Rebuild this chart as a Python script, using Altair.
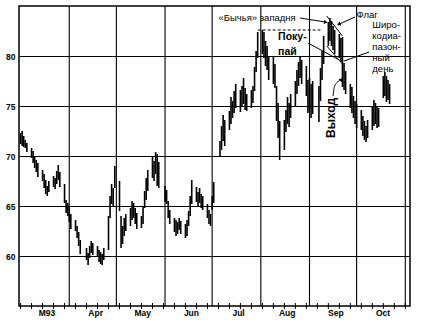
import altair as alt
import pandas as pd

# ---------------- data ----------------
holidays = ["1993-04-09", "1993-05-31", "1993-07-05", "1993-09-06"]

mar_high = [72.3, 72.5, 72.0, 71.6, 71.3, 70.8, 70.5, 70.0, 69.6, 69.3, 68.6, 68.2, 67.6, 67.0, 67.5,
            68.0, 67.8, 68.5, 69.1, 68.4, 67.2, 65.6, 65.3]
mar_low = [71.2, 71.0, 70.9, 70.8, 70.4, 69.8, 69.3, 68.8, 68.4, 67.9, 67.5, 66.8, 66.2, 66.0, 66.4,
           66.9, 66.7, 67.2, 67.6, 66.9, 65.3, 64.3, 64.0]
apr_high = [65.0, 64.2, 63.6, 63.0, 62.4, 61.6, 60.8, 60.3, 61.0, 61.5, 61.3, 61.0, 60.6, 60.4, 60.2,
            60.8, 64.0, 66.0, 67.2, 66.8, 69.0]
apr_low = [63.4, 62.7, 62.5, 61.8, 61.0, 60.2, 59.6, 59.1, 59.8, 60.3, 60.1, 59.9, 59.4, 59.2, 59.1,
           59.6, 60.6, 63.8, 65.2, 65.0, 66.8]
may_high = [67.5, 64.0, 63.0, 63.8, 64.2, 64.8, 65.5, 65.3, 64.8, 64.3, 64.0, 65.0, 66.5, 67.8, 68.6,
            70.0, 69.5, 70.4, 70.2, 69.4]
may_low = [64.5, 60.8, 61.2, 62.0, 62.5, 63.0, 63.6, 63.8, 63.2, 62.7, 62.8, 63.2, 64.8, 65.6, 66.5,
           67.8, 67.5, 68.2, 67.0, 66.8]
jun_high = [67.0, 66.6, 65.5, 64.6, 63.8, 63.6, 63.4, 63.8, 63.5, 63.2, 63.6, 64.5, 66.0, 67.6, 66.9,
            66.4, 66.8, 66.2, 66.0, 65.2, 64.6, 64.2]
jun_low = [65.4, 65.2, 63.8, 63.2, 62.4, 62.0, 62.2, 62.6, 62.2, 61.8, 62.0, 63.0, 64.0, 65.2, 65.4,
           65.0, 65.3, 64.8, 64.6, 63.8, 63.2, 63.0]
jul_high = [66.0, 67.4, 71.5, 73.0, 74.1, 73.6, 74.5, 75.9, 75.5, 76.5, 77.2, 76.6, 77.0, 77.8, 76.8,
            76.2, 76.6, 77.0, 78.9, 80.5, 82.4]
jul_low = [64.6, 65.3, 69.9, 70.6, 71.5, 71.0, 72.6, 73.2, 73.8, 74.3, 74.8, 74.4, 75.0, 75.2, 74.6,
           74.5, 74.8, 75.3, 76.5, 78.4, 79.8]
aug_high = [82.6, 82.4, 81.5, 81.0, 80.0, 80.0, 79.2, 77.0, 75.3, 73.5, 73.6, 74.6, 75.9, 75.3, 76.2,
            77.5, 78.6, 79.4, 80.0, 79.6, 79.0, 77.6]
aug_low = [80.2, 79.8, 79.0, 78.6, 77.6, 77.2, 76.8, 73.5, 71.8, 69.6, 70.6, 72.4, 73.2, 72.9, 73.8,
           75.0, 76.2, 77.0, 77.8, 77.2, 76.0, 74.3]
sep_high = [77.8, 77.2, 77.5, 77.0, 78.8, 80.5, 82.0, 83.4, 83.8, 83.5, 83.0, 82.6, 82.2, 81.8, 81.9,
            79.3, 78.5, 77.2, 76.9, 76.0, 75.5]
sep_low = [74.6, 73.8, 74.2, 73.4, 75.5, 77.6, 79.2, 81.0, 81.5, 81.0, 80.6, 80.2, 79.8, 79.4, 76.9,
           76.6, 76.2, 74.8, 74.3, 73.8, 73.2]
oct_high = [75.2, 74.6, 74.0, 73.5, 73.0, 73.6, 75.0, 75.6, 75.3, 75.0, 74.8, 78.0, 78.4, 78.0, 77.6, 77.2]
oct_low = [72.8, 72.6, 72.0, 71.6, 71.4, 71.8, 72.6, 73.0, 73.2, 72.8, 72.9, 75.8, 76.0, 75.4, 75.6, 75.2]

month_numbers = [3, 4, 5, 6, 7, 8, 9, 10]
month_labels = ["M93", "Apr", "May", "Jun", "Jul", "Aug", "Sep", "Oct"]
price_ticks = [60, 65, 70, 75, 80]
highs = [mar_high, apr_high, may_high, jun_high, jul_high, aug_high, sep_high, oct_high]
lows = [mar_low, apr_low, may_low, jun_low, jul_low, aug_low, sep_low, oct_low]

# annotation anchors (date, price)
dashed_level = 82.6
texts_normal = [("1993-07-05", 83.8, "«Бычья» западня"), ("1993-10-01", 84.1, "Флаг"),
                ("1993-10-11", 83.1, "Широ-"), ("1993-10-11", 82.0, "кодиа-"),
                ("1993-10-11", 80.9, "пазон-"), ("1993-10-11", 79.8, "ный"),
                ("1993-10-11", 78.7, "день")]
texts_bold = [("1993-08-12", 81.9, "Поку-"), ("1993-08-12", 80.4, "пай")]
text_exit = [("1993-09-15", 73.8, "Выход")]
segments = [("1993-08-26", 83.8, "1993-09-11", 83.4),
            ("1993-09-30", 83.9, "1993-09-20", 83.2),
            ("1993-09-12", 84.0, "1993-09-22", 82.0),
            ("1993-09-12", 81.0, "1993-09-22", 79.2),
            ("1993-08-31", 81.3, "1993-09-20", 79.6),
            ("1993-10-09", 80.4, "1993-09-23", 79.5)]
exit_path = [("1993-09-16", 76.0), ("1993-09-17", 77.0), ("1993-09-21", 77.6)]
heads = [("1993-09-11", 83.4, 99), ("1993-09-20", 83.2, 245), ("1993-09-21", 77.6, 45)]

# ---------------- build tables ----------------
rows = []
for m, hi, lo in zip(month_numbers, highs, lows):
    days = pd.bdate_range(f"1993-{m:02d}-01", periods=30)
    days = [d for d in days if d.month == m and d.strftime("%Y-%m-%d") not in holidays]
    for d, h, l in zip(days, hi, lo):
        rows.append({"date": d, "high": h, "low": l})
bars = pd.DataFrame(rows)

month_starts = pd.DataFrame({"d": pd.to_datetime([f"1993-{m:02d}-01" for m in range(4, 12)])})
weeks = pd.DataFrame({"d": pd.date_range("1993-03-01", "1993-11-01", freq="W-MON")})
label_dates = [alt.DateTime(year=1993, month=m, date=17, hours=12) for m in month_numbers]
label_expr = "[" + ",".join(f"'{t}'" for t in month_labels) + "][month(datum.value)-2]"

xscale = alt.Scale(domain=[alt.DateTime(year=1993, month=2, date=28),
                           alt.DateTime(year=1993, month=11, date=4)])
yscale = alt.Scale(domain=[55, 85], nice=False, zero=False)

def X(field):
    return alt.X(field, type="temporal", scale=xscale, title=None)

def Y(field):
    return alt.Y(field, type="quantitative", scale=yscale, title=None)

FONT = "Liberation Sans Narrow, Liberation Sans, Arial"

price_bars = alt.Chart(bars).mark_rule(color="black", strokeWidth=1.6).encode(
    x=alt.X("date:T", scale=xscale, title=None,
            axis=alt.Axis(values=label_dates, labelExpr=label_expr, grid=False, ticks=False,
                          domain=False, labelPadding=2)),
    y=alt.Y("low:Q", scale=yscale, title=None,
            axis=alt.Axis(values=price_ticks, grid=True, ticks=False, domain=False,
                          labelPadding=4)),
    y2="high:Q")

grid_x = alt.Chart(month_starts).mark_rule(color="black", strokeWidth=1.1).encode(x=X("d"))

week_ticks = alt.Chart(weeks).mark_rule(color="black", strokeWidth=1).encode(
    x=X("d"), y=alt.value(297), y2=alt.value(303))

dash_df = pd.DataFrame({"a": pd.to_datetime(["1993-07-30"]), "b": pd.to_datetime(["1993-09-08"]),
                        "p": [dashed_level]})
dashed = alt.Chart(dash_df).mark_rule(color="black", strokeWidth=1, strokeDash=[3, 2]).encode(
    x=X("a"), x2="b", y=Y("p"))

seg_df = pd.DataFrame(segments, columns=["a", "p1", "b", "p2"])
seg_df["a"] = pd.to_datetime(seg_df["a"])
seg_df["b"] = pd.to_datetime(seg_df["b"])
seg = alt.Chart(seg_df).mark_rule(color="black", strokeWidth=1).encode(
    x=X("a"), x2="b", y=Y("p1"), y2="p2")

exit_df = pd.DataFrame(exit_path, columns=["d", "p"])
exit_df["d"] = pd.to_datetime(exit_df["d"])
exit_df["o"] = range(len(exit_df))
exit_line = alt.Chart(exit_df).mark_line(color="black", strokeWidth=1, interpolate="monotone").encode(
    x=X("d"), y=Y("p"), order="o:O")

head_df = pd.DataFrame(heads, columns=["d", "p", "ang"])
head_df["d"] = pd.to_datetime(head_df["d"])
arrow_heads = alt.Chart(head_df).mark_point(shape="triangle", filled=True, size=18, color="black",
                                            opacity=1).encode(
    x=X("d"), y=Y("p"), angle=alt.Angle("ang:Q", scale=None))

def text_layer(items, **kw):
    df = pd.DataFrame(items, columns=["d", "p", "t"])
    df["d"] = pd.to_datetime(df["d"])
    return alt.Chart(df).mark_text(color="black", font=FONT, baseline="middle", **kw).encode(
        x=X("d"), y=Y("p"), text="t:N")

t_norm = text_layer(texts_normal, align="left", fontSize=9.5)
t_bold = text_layer(texts_bold, align="left", fontSize=10.5, fontWeight="bold")
t_exit = text_layer(text_exit, align="center", fontSize=12, fontWeight="bold", angle=270)

chart = alt.layer(price_bars, grid_x, week_ticks, dashed, seg, exit_line, arrow_heads,
                  t_norm, t_bold, t_exit).properties(
    width=391, height=300, autosize="none",
    padding={"left": 19, "top": 6, "right": 12, "bottom": 20},
    background="white"
).configure_view(stroke="black", strokeWidth=1.5).configure_axis(
    labelFont="Liberation Sans", labelFontWeight="bold", labelFontSize=8.5, labelColor="black",
    gridColor="black", gridWidth=1.1, gridOpacity=1)

chart.save("out.html", embed_options={"renderer": "svg", "actions": False})
